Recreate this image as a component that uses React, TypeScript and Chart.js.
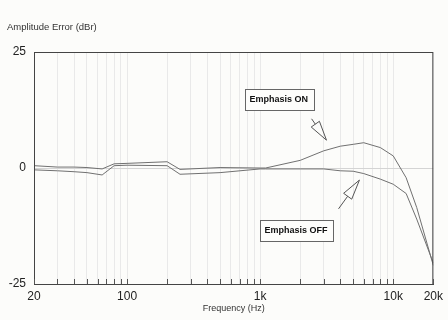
import React, { useEffect, useRef } from 'react';
import { Chart, registerables } from 'chart.js';

Chart.register(...registerables);

// Frequency points (Hz)
const frequencies = [20, 30, 40, 50, 65, 80, 100, 200, 250, 500, 1000, 1100, 2000, 3000, 4000, 5000, 6000, 8000, 10000, 12500, 15000, 20000];
// Amplitude error (dBr)
const emphasisOn = [0.5, 0.2, 0.2, 0.1, -0.2, 0.9, 1.0, 1.35, -0.3, 0.1, 0.0, 0.0, 1.65, 3.7, 4.7, 5.1, 5.45, 4.4, 2.6, -2.1, -8.5, -21];
const emphasisOff = [-0.4, -0.6, -0.8, -1.0, -1.5, 0.5, 0.6, 0.5, -1.35, -1.0, -0.2, -0.2, -0.2, -0.2, -0.6, -0.7, -1.2, -2.4, -3.5, -5.5, -11, -20.5];

const xTickValues = [20, 30, 40, 50, 60, 70, 80, 90, 100, 200, 300, 400, 500, 600, 700, 800, 900, 1000, 2000, 3000, 4000, 5000, 6000, 7000, 8000, 9000, 10000, 20000];
const xTickLabelMap: Record<number, string> = { 20: '20', 100: '100', 1000: '1k', 10000: '10k', 20000: '20k' };
const yTickValues = [-25, 0, 25];
const yTickLabels = ['-25', '0', '25'];

const yTitle = 'Amplitude Error (dBr)';
const xTitle = 'Frequency (Hz)';

// annotations in data coordinates [Hz, dB]
const annotationTexts = ['Emphasis ON', 'Emphasis OFF'];
const annotationCenters = [[1380, 14.8], [1860, -13.4]];
const arrowStarts = [[2435, 10.6], [3880, -8.8]];
const arrowTips = [[3150, 6.0], [5570, -2.6]];

const FONT = '"Liberation Sans", Arial, sans-serif';

const decorPlugin = {
  id: 'decor',
  beforeDraw(chart: any) {
    const ctx = chart.ctx;
    ctx.save();
    ctx.fillStyle = '#fcfcfa';
    ctx.fillRect(0, 0, chart.width, chart.height);
    ctx.restore();
  },
  afterDraw(chart: any) {
    const ctx = chart.ctx;
    const { left, right, top, bottom } = chart.chartArea;
    const xs = chart.scales.x;
    const ys = chart.scales.y;
    ctx.save();
    // frame
    ctx.strokeStyle = '#444';
    ctx.lineWidth = 1;
    ctx.strokeRect(left + 0.5, top + 0.5, right - left - 1, bottom - top);
    // inward ticks
    ctx.strokeStyle = '#555';
    xTickValues.forEach((v) => {
      const px = Math.round(xs.getPixelForValue(v)) + 0.5;
      ctx.beginPath();
      ctx.moveTo(px, bottom);
      ctx.lineTo(px, bottom - 5);
      ctx.stroke();
    });
    // y title
    ctx.fillStyle = '#333';
    ctx.font = `9.5px ${FONT}`;
    ctx.textAlign = 'left';
    ctx.textBaseline = 'middle';
    ctx.fillText(yTitle, 7, 27);

    // annotations
    annotationTexts.forEach((t, i) => {
      const cx = xs.getPixelForValue(annotationCenters[i][0]);
      const cy = ys.getPixelForValue(annotationCenters[i][1]);
      ctx.font = `bold 9px ${FONT}`;
      const w = ctx.measureText(t).width + 10;
      const h = 21;
      ctx.fillStyle = '#fdfdfb';
      ctx.strokeStyle = '#666';
      ctx.lineWidth = 1;
      ctx.fillRect(Math.round(cx - w / 2), Math.round(cy - h / 2), Math.round(w), h);
      ctx.strokeRect(Math.round(cx - w / 2) + 0.5, Math.round(cy - h / 2) + 0.5, Math.round(w), h);
      ctx.fillStyle = '#111';
      ctx.textAlign = 'center';
      ctx.textBaseline = 'middle';
      ctx.fillText(t, cx, cy + 0.5);

      // hollow arrow
      const x0 = xs.getPixelForValue(arrowStarts[i][0]);
      const y0 = ys.getPixelForValue(arrowStarts[i][1]);
      const x1 = xs.getPixelForValue(arrowTips[i][0]);
      const y1 = ys.getPixelForValue(arrowTips[i][1]);
      const ang = Math.atan2(y1 - y0, x1 - x0);
      const len = Math.hypot(x1 - x0, y1 - y0);
      const headLen = Math.min(20, len * 0.75);
      const headW = 5;
      const bx = x1 - Math.cos(ang) * headLen;
      const by = y1 - Math.sin(ang) * headLen;
      const nx = -Math.sin(ang);
      const ny = Math.cos(ang);
      ctx.strokeStyle = '#555';
      ctx.beginPath();
      ctx.moveTo(x0, y0);
      ctx.lineTo(bx, by);
      ctx.stroke();
      ctx.beginPath();
      ctx.moveTo(x1, y1);
      ctx.lineTo(bx + nx * headW, by + ny * headW);
      ctx.lineTo(bx - nx * headW, by - ny * headW);
      ctx.closePath();
      ctx.stroke();
    });
    ctx.restore();
  },
};

export default function App() {
  const ref = useRef<HTMLCanvasElement>(null);
  useEffect(() => {
    document.body.style.margin = '0';
    const canvas = ref.current!;
    const chart = new Chart(canvas, {
      type: 'line',
      data: {
        datasets: [
          {
            label: 'Emphasis ON',
            data: frequencies.map((f, i) => ({ x: f, y: emphasisOn[i] })),
            borderColor: '#707070',
            borderWidth: 1,
            pointRadius: 0,
            tension: 0,
          },
          {
            label: 'Emphasis OFF',
            data: frequencies.map((f, i) => ({ x: f, y: emphasisOff[i] })),
            borderColor: '#707070',
            borderWidth: 1,
            pointRadius: 0,
            tension: 0,
          },
        ],
      },
      options: {
        animation: false,
        responsive: false,
        maintainAspectRatio: false,
        layout: { padding: { top: 52, right: 14, left: 0, bottom: 0 } },
        plugins: { legend: { display: false }, tooltip: { enabled: false }, title: { display: false } },
        scales: {
          x: {
            type: 'logarithmic',
            min: 20,
            max: 20000,
            afterBuildTicks: (s: any) => {
              s.ticks = xTickValues.map((v) => ({ value: v }));
            },
            afterFit: (s: any) => {
              s.height = 36;
            },
            ticks: {
              autoSkip: false,
              maxRotation: 0,
              padding: 5,
              color: '#222',
              font: { family: FONT, size: 12 },
              callback: (v: any) => xTickLabelMap[Number(v)] ?? '',
            },
            grid: { color: '#e9e9e9', drawTicks: false },
            border: { display: true, color: '#444' },
            title: {
              display: true,
              text: xTitle,
              color: '#333',
              font: { family: FONT, size: 9 },
              padding: { top: 0, bottom: 6 },
            },
          },
          y: {
            type: 'linear',
            min: -25,
            max: 25,
            afterBuildTicks: (s: any) => {
              s.ticks = yTickValues.map((v) => ({ value: v }));
            },
            afterFit: (s: any) => {
              s.width = 34;
            },
            ticks: {
              padding: 8,
              color: '#222',
              font: { family: FONT, size: 12 },
              callback: (v: any) => yTickLabels[yTickValues.indexOf(Number(v))] ?? '',
            },
            grid: {
              drawTicks: false,
              color: (c: any) => (c.tick && c.tick.value === 0 ? '#d4d4d4' : 'rgba(0,0,0,0)'),
            },
            border: { display: true, color: '#444' },
          },
        },
      },
      plugins: [decorPlugin],
    });
    return () => chart.destroy();
  }, []);
  return (
    <div style={{ position: 'absolute', left: 0, top: 0, width: 448, height: 320 }}>
      <canvas ref={ref} width={448} height={320} style={{ width: 448, height: 320, display: 'block' }} />
    </div>
  );
}
